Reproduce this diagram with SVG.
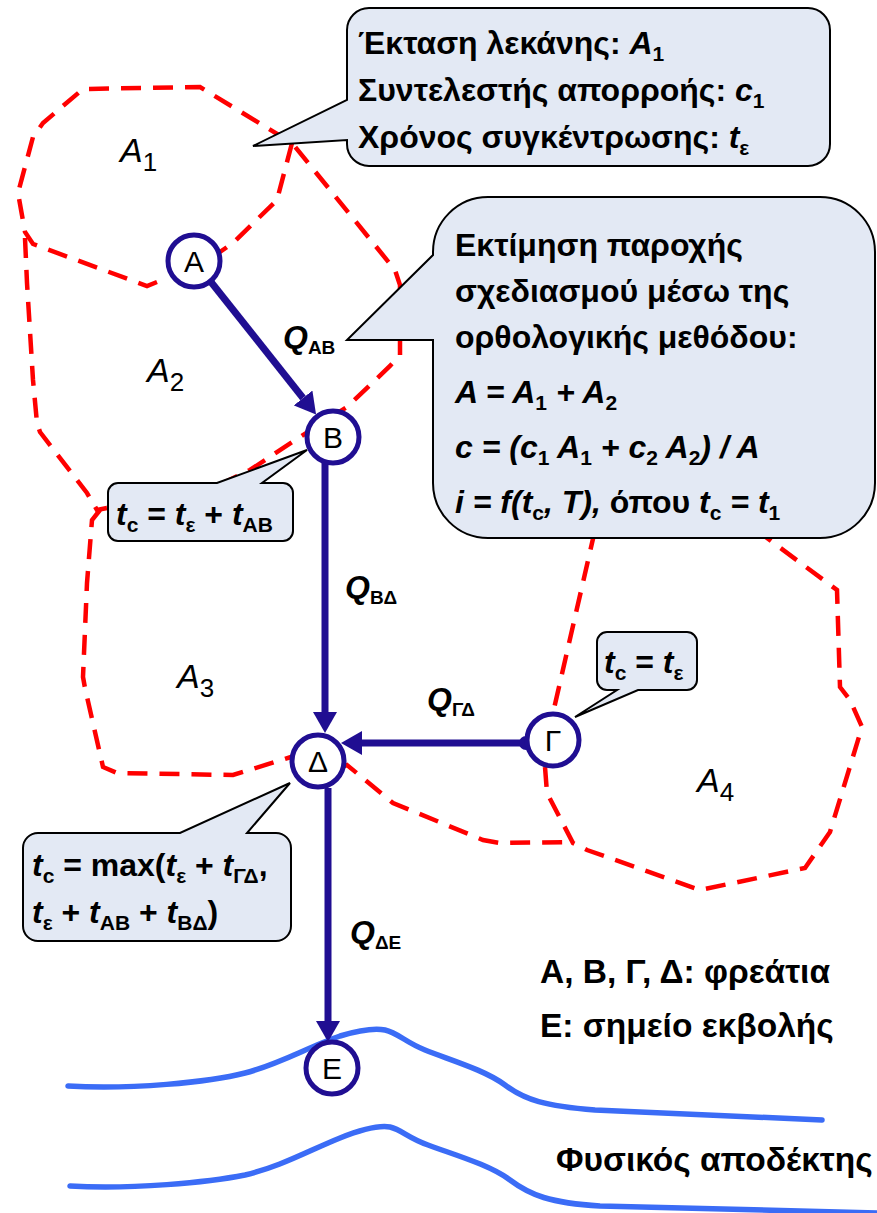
<svg xmlns="http://www.w3.org/2000/svg" width="877" height="1213" viewBox="0 0 877 1213">
<style>
.b{fill:none;stroke:#FF0000;stroke-width:4.5;stroke-dasharray:20 12;stroke-linejoin:miter}
.rv{fill:none;stroke:#3B6CF6;stroke-width:5.5;stroke-linecap:round}
.p{fill:none;stroke:#200E92;stroke-width:7}
.nd{fill:#fff;stroke:#200E92;stroke-width:5}
.co{fill:#E3E9F4;stroke:#000;stroke-width:2;stroke-linejoin:miter}
text{font-family:"Liberation Sans",Arial,sans-serif;fill:#000}
.t{font-weight:bold;font-size:32px}
.i{font-style:italic}
.u{font-style:normal}
.s{font-size:21px;font-style:normal}
.q{font-weight:bold;font-style:italic;font-size:32px}
.qs{font-size:19px;font-style:normal}
.nl{font-size:30px;text-anchor:middle}
.ar{font-size:34px;font-style:italic}
.as{font-size:26px;font-style:normal}
.lg{font-weight:bold;font-size:33.5px}
</style>
<defs>
<marker id="ah" markerUnits="userSpaceOnUse" markerWidth="22" markerHeight="24" refX="0" refY="12" orient="auto">
<path d="M0,0 L21,12 L0,24 Z" fill="#200E92"/>
</marker>
<marker id="tl" markerUnits="userSpaceOnUse" markerWidth="16" markerHeight="16" refX="8" refY="8" orient="auto">
<circle cx="8" cy="8" r="7" fill="#200E92"/>
</marker>
</defs>

<g id="basins">
<path class="b" d="M157,282 L147,286 L33,244 L25,232 L18,193 L33,137 L43,123 L83,89 L200,87 L292,143 L395,270 L400,285 L400,355 L390,366 L347,407 L300,437 L250,470 L215,487 L107,508"/>
<path class="b" d="M292,143 L277,200 L233,243 L214,256"/>
<path class="b" d="M25,238 L27,283 L33,380 L37,423 L40,432 L87,493 L97,510 L107,508"/>
<path class="b" d="M100,510 L92,520 L87,583 L83,677 L85,688 L103,767 L117,773 L233,775 L291,757 L305,752"/>
<path class="b" d="M340,768 L347,765 L393,803 L483,840 L500,843 L572,842"/>
<path class="b" d="M595,530 L553,713"/>
<path class="b" d="M545,767 L547,793 L573,843 L587,850 L700,890 L805,868 L830,832 L862,727 L850,700 L840,687 L837,590 L767,538 L740,520"/>
</g>

<g id="river">
<path class="rv" d="M68,1086 C130,1090 210,1082 245,1073 C280,1064 310,1046 340,1036 C360,1030 375,1028 385,1030 C398,1033 405,1042 425,1050 C450,1060 485,1070 505,1085 C525,1100 545,1106 595,1110 L822,1120"/>
<path class="rv" d="M70,1186 C130,1190 210,1182 245,1175 C280,1167 310,1150 340,1138 C360,1130 378,1125 390,1127 C402,1130 408,1138 428,1145 C455,1155 490,1165 510,1180 C530,1195 550,1203 600,1206 L880,1213"/>
</g>

<g id="connectors">
<line class="p" x1="211" y1="282" x2="303" y2="398" marker-end="url(#ah)"/>
<line class="p" x1="325" y1="463" x2="325" y2="712" marker-end="url(#ah)"/>
<line class="p" x1="526" y1="743" x2="362" y2="743" marker-start="url(#tl)" marker-end="url(#ah)"/>
<line class="p" x1="328" y1="788" x2="328" y2="1021" marker-end="url(#ah)"/>
</g>

<g id="node-A"><circle class="nd" cx="194" cy="261" r="26"/><text class="nl" x="194" y="272">Α</text></g>
<g id="node-B"><circle class="nd" cx="333" cy="437" r="26"/><text class="nl" x="333" y="448">Β</text></g>
<g id="node-G"><circle class="nd" cx="553" cy="740" r="26"/><text class="nl" x="553" y="751">Γ</text></g>
<g id="node-D"><circle class="nd" cx="318" cy="761" r="26"/><text class="nl" x="318" y="772">Δ</text></g>
<g id="node-E"><circle class="nd" cx="332" cy="1068" r="26"/><text class="nl" x="332" y="1079">Ε</text></g>

<g id="flow-labels">
<text class="q" x="283" y="348">Q<tspan class="qs" dy="6">ΑΒ</tspan></text>
<text class="q" x="345" y="598">Q<tspan class="qs" dy="6">ΒΔ</tspan></text>
<text class="q" x="427" y="710">Q<tspan class="qs" dy="6">ΓΔ</tspan></text>
<text class="q" x="350" y="943">Q<tspan class="qs" dy="6">ΔΕ</tspan></text>
</g>

<g id="area-labels">
<text class="ar" x="120" y="162">A<tspan class="as" dy="9">1</tspan></text>
<text class="ar" x="147" y="382">A<tspan class="as" dy="9">2</tspan></text>
<text class="ar" x="177" y="688">A<tspan class="as" dy="9">3</tspan></text>
<text class="ar" x="697" y="792">A<tspan class="as" dy="9">4</tspan></text>
</g>

<g id="callout-basin">
<path class="co" d="M369,8 H808 A22,22 0 0 1 830,30 V144 A22,22 0 0 1 808,166 H369 A22,22 0 0 1 347,144 V140 L253,146 L347,100 V30 A22,22 0 0 1 369,8 Z"/>
<text class="t" x="358" y="54">Έκταση λεκάνης: <tspan class="i">A</tspan><tspan class="s" dy="7">1</tspan></text>
<text class="t" x="358" y="101">Συντελεστής απορροής: <tspan class="i">c</tspan><tspan class="s" dy="7">1</tspan></text>
<text class="t" x="358" y="148">Χρόνος συγκέντρωσης: <tspan class="i">t</tspan><tspan class="s" dy="7">ε</tspan></text>
</g>

<g id="callout-method">
<path class="co" d="M488,197 H820 A55,55 0 0 1 875,252 V483 A55,55 0 0 1 820,538 H488 A55,55 0 0 1 433,483 V340 H347 L433,255 V252 A55,55 0 0 1 488,197 Z"/>
<text class="t" x="455" y="256">Εκτίμηση παροχής</text>
<text class="t" x="455" y="302">σχεδιασμού μέσω της</text>
<text class="t" x="455" y="348">ορθολογικής μεθόδου:</text>
<text class="t i" x="455" y="403">A = A<tspan class="s" dy="7">1</tspan><tspan dy="-7"> + A</tspan><tspan class="s" dy="7">2</tspan></text>
<text class="t i" x="455" y="458">c = (c<tspan class="s" dy="7">1</tspan><tspan dy="-7"> A</tspan><tspan class="s" dy="7">1</tspan><tspan dy="-7"> + c</tspan><tspan class="s" dy="7">2</tspan><tspan dy="-7"> A</tspan><tspan class="s" dy="7">2</tspan><tspan dy="-7">) / A</tspan></text>
<text class="t i" x="455" y="513">i = f(t<tspan class="s" dy="7">c</tspan><tspan dy="-7">, T), </tspan><tspan class="u">όπου </tspan>t<tspan class="s" dy="7">c</tspan><tspan dy="-7"> = t</tspan><tspan class="s" dy="7">1</tspan></text>
</g>

<g id="callout-B">
<path class="co" d="M118,483 H217 L307,450 L262,483 H283 A10,10 0 0 1 293,493 V531 A10,10 0 0 1 283,541 H118 A10,10 0 0 1 108,531 V493 A10,10 0 0 1 118,483 Z"/>
<text class="t" x="116" y="525"><tspan class="i">t</tspan><tspan class="s" dy="7">c</tspan><tspan dy="-7"> = </tspan><tspan class="i">t</tspan><tspan class="s" dy="7">ε</tspan><tspan dy="-7"> + </tspan><tspan class="i">t</tspan><tspan class="s" dy="7">ΑΒ</tspan></text>
</g>

<g id="callout-G">
<path class="co" d="M607,632 H687 A10,10 0 0 1 697,642 V680 A10,10 0 0 1 687,690 H638 L575,717 L617,690 H607 A10,10 0 0 1 597,680 V642 A10,10 0 0 1 607,632 Z"/>
<text class="t" x="604" y="673"><tspan class="i">t</tspan><tspan class="s" dy="7">c</tspan><tspan dy="-7"> = </tspan><tspan class="i">t</tspan><tspan class="s" dy="7">ε</tspan></text>
</g>

<g id="callout-D">
<path class="co" d="M38,833 H180 L290,783 L247,833 H276 A15,15 0 0 1 291,848 V926 A15,15 0 0 1 276,941 H38 A15,15 0 0 1 23,926 V848 A15,15 0 0 1 38,833 Z"/>
<text class="t" x="32" y="876"><tspan class="i">t</tspan><tspan class="s" dy="7">c</tspan><tspan dy="-7"> = max(</tspan><tspan class="i">t</tspan><tspan class="s" dy="7">ε</tspan><tspan dy="-7"> + </tspan><tspan class="i">t</tspan><tspan class="s" dy="7">ΓΔ</tspan><tspan dy="-7">,</tspan></text>
<text class="t" x="32" y="923"><tspan class="i">t</tspan><tspan class="s" dy="7">ε</tspan><tspan dy="-7"> + </tspan><tspan class="i">t</tspan><tspan class="s" dy="7">ΑΒ</tspan><tspan dy="-7"> + </tspan><tspan class="i">t</tspan><tspan class="s" dy="7">ΒΔ</tspan><tspan dy="-7">)</tspan></text>
</g>

<g id="legend">
<text class="lg" x="540" y="983">Α, Β, Γ, Δ: φρεάτια</text>
<text class="lg" x="540" y="1037">Ε: σημείο εκβολής</text>
<text class="lg" x="556" y="1171">Φυσικός αποδέκτης</text>
</g>
</svg>
